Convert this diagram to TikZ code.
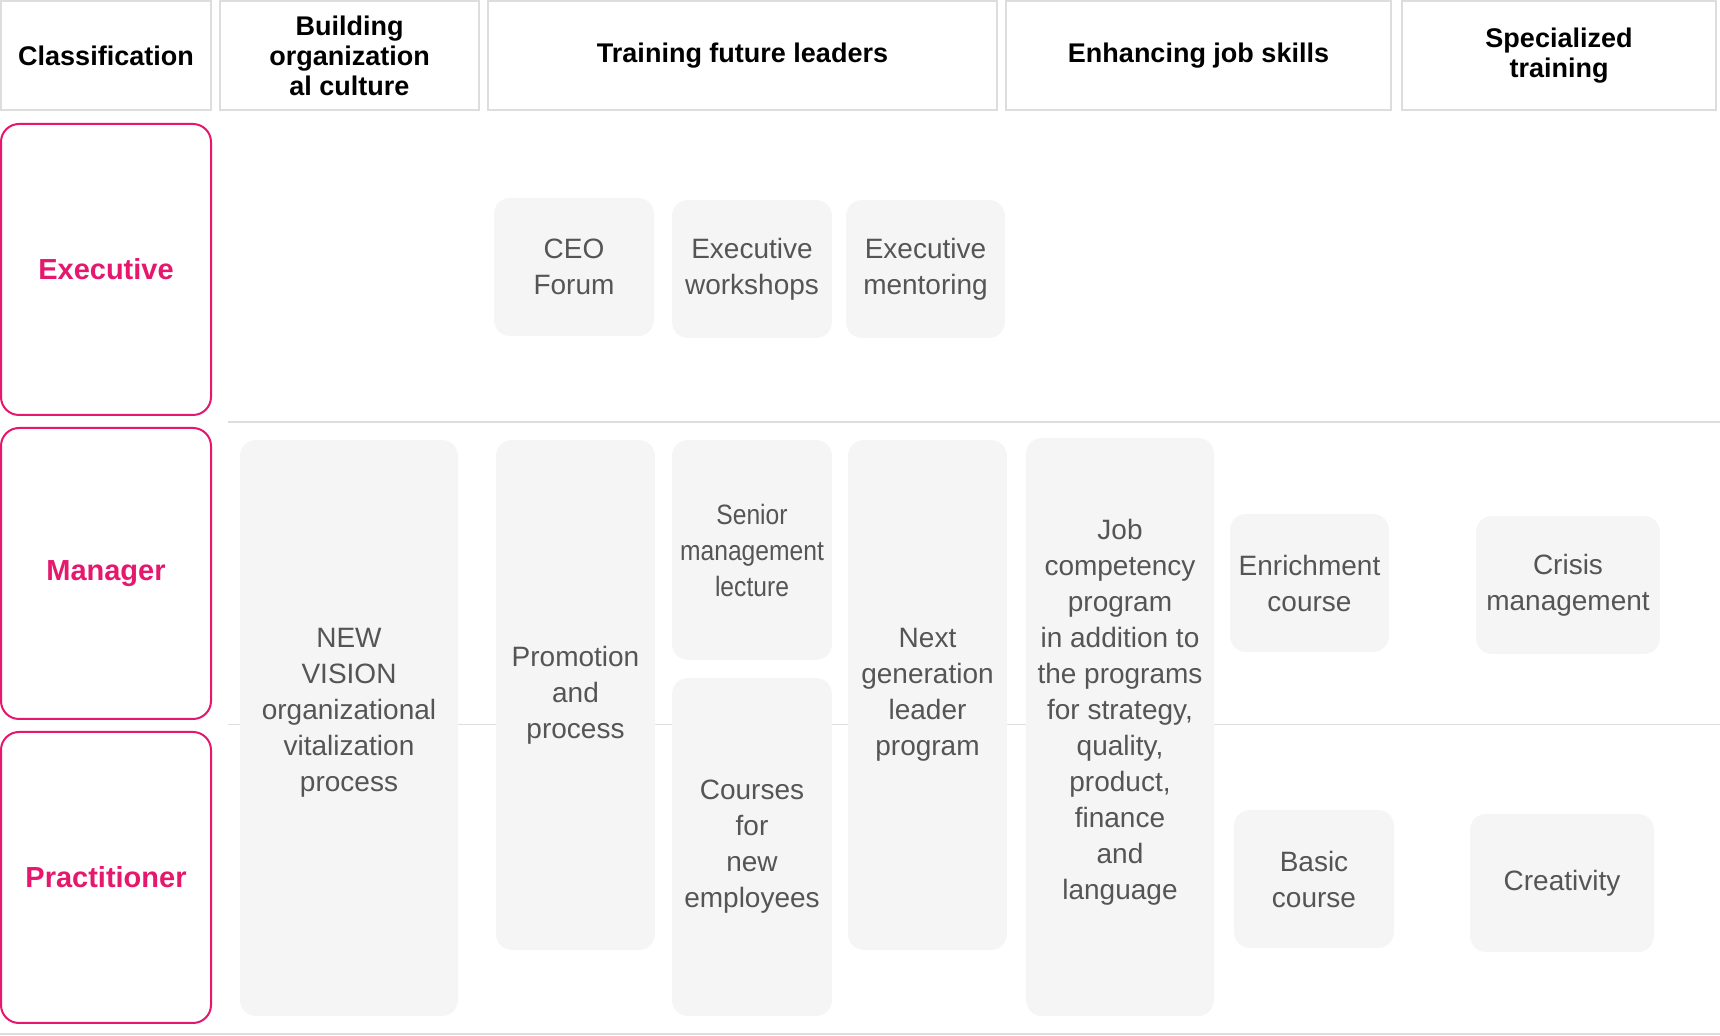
\documentclass[tikz,border=0pt]{standalone}
\usepackage{fontspec}
\setmainfont{Liberation Sans}
\definecolor{levelpink}{HTML}{E5186E}
\definecolor{cellgray}{HTML}{F5F5F5}
\definecolor{ruleline}{HTML}{DDDDDD}
\definecolor{celltext}{HTML}{555555}

\begin{document}
\begin{tikzpicture}[x=0.5pt,y=-0.5pt,
	headbox/.style={draw=ruleline,line width=1.2pt,fill=white,align=center,inner sep=0pt,minimum height=54.5pt,text=black,font=\bfseries\fontsize{13.5}{15}\selectfont},
	levelbox/.style={draw=levelpink,line width=1pt,rounded corners=9pt,align=center,inner sep=0pt,minimum width=105pt,minimum height=145.5pt,text=levelpink,font=\bfseries\fontsize{14.5}{17}\selectfont},
	cellbox/.style={fill=cellgray,rounded corners=8pt,align=center,inner sep=0pt,text=celltext,font=\fontsize{14}{18}\selectfont},
	rowline/.style={draw=ruleline,line width=0.9pt}]
	\useasboundingbox (0,0) rectangle (1720,1036);
	% header row
	\node[headbox,minimum width=105pt] (hclass) at (106,55.5) {Classification};
	\node[headbox,minimum width=129.5pt] (hculture) at (349.5,55.5) {Building\\organization\\al culture};
	\node[headbox,minimum width=254.5pt,text depth=3pt] (hleader) at (742.5,55.5) {Training future leaders};
	\node[headbox,minimum width=192.5pt,text depth=3pt] (hskill) at (1198.5,55.5) {Enhancing job skills};
	\node[headbox,minimum width=157pt] (hspecial) at (1559,55.5) {Specialized\\training};
	% row separators
	\draw[rowline] (228,422) -- (1720,422);
	\draw[rowline] (228,724.5) -- (1720,724.5);
	\draw[rowline] (0,1034) -- (1720,1034);
	% levels
	\node[levelbox] (lexec) at (106,269.5) {Executive};
	\node[levelbox] (lmanager) at (106,573.5) {Manager};
	\node[levelbox] (lpract) at (106,877.5) {Practitioner};
	% executive row
	\node[cellbox,minimum width=80pt,minimum height=69pt] (ceo) at (574,267) {CEO\\Forum};
	\node[cellbox,minimum width=80pt,minimum height=69pt] (exwork) at (752,269) {Executive\\workshops};
	\node[cellbox,minimum width=79.5pt,minimum height=69pt] (exmentor) at (925.5,269) {Executive\\mentoring};
	% manager and practitioner rows
	\node[cellbox,minimum width=109pt,minimum height=288pt,text depth=18pt] (newvision) at (349,728) {NEW\\VISION\\organizational\\vitalization\\process};
	\node[cellbox,minimum width=79.5pt,minimum height=255pt] (promo) at (575.5,695) {Promotion\\and\\process};
	\node[cellbox,minimum width=80pt,minimum height=110pt,font=\fontsize{14}{18}\selectfont\addfontfeature{FakeStretch=0.88}] (senior) at (752,550) {Senior\\management\\lecture};
	\node[cellbox,minimum width=80pt,minimum height=169pt] (newemp) at (752,847) {Courses\\for\\new\\employees};
	\node[cellbox,minimum width=79.5pt,minimum height=255pt] (nextgen) at (927.5,695) {Next\\generation\\leader\\program};
	\node[cellbox,minimum width=94pt,minimum height=289pt,text depth=18pt] (jobcomp) at (1120,727) {Job\\competency\\program\\in addition to\\the programs\\for strategy,\\quality,\\product,\\finance\\and\\language};
	\node[cellbox,minimum width=79.5pt,minimum height=69pt] (enrich) at (1309.5,583) {Enrichment\\course};
	\node[cellbox,minimum width=92pt,minimum height=69pt] (crisis) at (1568,585) {Crisis\\management};
	\node[cellbox,minimum width=80pt,minimum height=69pt] (basic) at (1314,879) {Basic\\course};
	\node[cellbox,minimum width=92pt,minimum height=69pt] (creative) at (1562,883) {Creativity};
\end{tikzpicture}
\end{document}
